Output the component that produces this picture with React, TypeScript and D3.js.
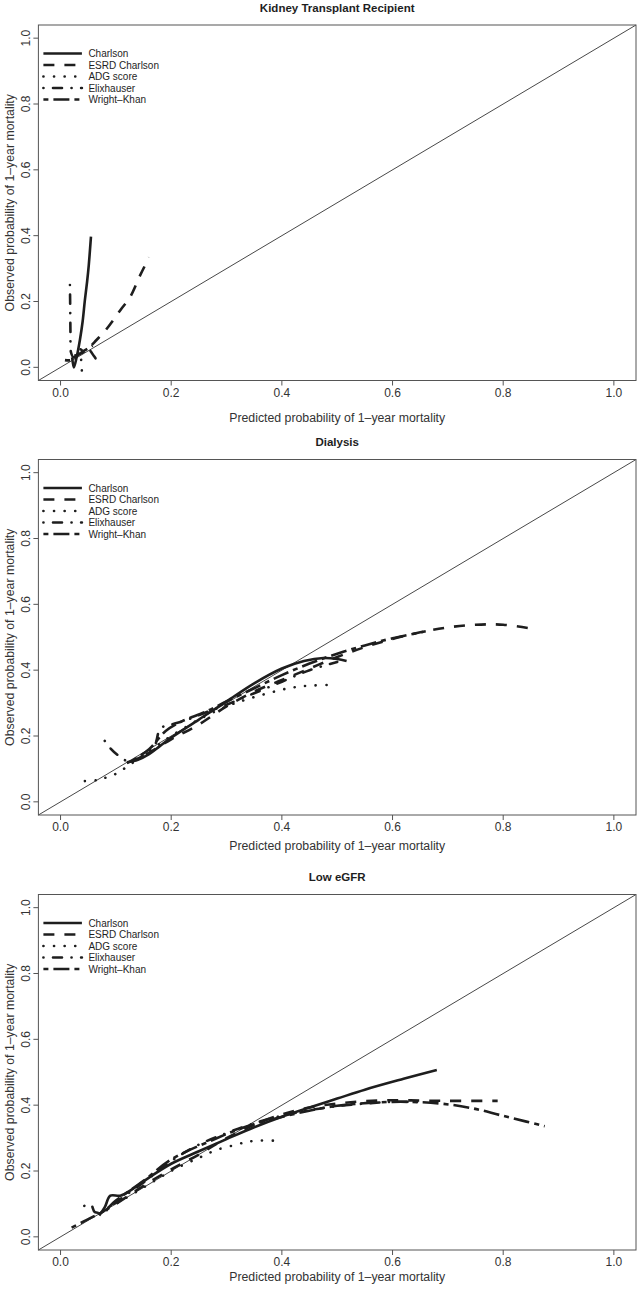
import React from 'react';
import * as d3 from 'd3';

const SERIES_NAMES = ['Charlson', 'ESRD Charlson', 'ADG score', 'Elixhauser', 'Wright–Khan'];
const PANEL_TITLES = ['Kidney Transplant Recipient', 'Dialysis', 'Low eGFR'];
const TICKS = [0, 0.2, 0.4, 0.6, 0.8, 1.0];
const TICK_LABELS = ['0.0', '0.2', '0.4', '0.6', '0.8', '1.0'];
const X_TITLE = 'Predicted probability of 1–year mortality';
const Y_TITLE = 'Observed probability of 1–year mortality';

// Kidney Transplant Recipient
const KTR_CHARLSON = [[0.021, 0.03], [0.024, 0.0], [0.029, 0.03], [0.035, 0.083], [0.04, 0.14], [0.044, 0.204], [0.048, 0.26], [0.051, 0.31], [0.055, 0.397]];
const KTR_ESRD = [[0.025, 0.035], [0.04, 0.045], [0.05, 0.057], [0.065, 0.083], [0.08, 0.11], [0.095, 0.143], [0.11, 0.178], [0.126, 0.214], [0.144, 0.28], [0.16, 0.334]];
const KTR_ADG = [[0.036, 0.055], [0.037, 0.03], [0.038, 0.005], [0.039, -0.027]];
const KTR_ELIX = [[0.017, 0.25], [0.0175, 0.18], [0.018, 0.1], [0.019, 0.045], [0.024, 0.03], [0.035, 0.05], [0.05, 0.055], [0.06, 0.035], [0.07, 0.01]];
const KTR_WK = [[0.008, 0.022], [0.02, 0.022], [0.03, 0.035], [0.04, 0.048], [0.05, 0.058], [0.058, 0.066]];

// Dialysis
const DIA_CHARLSON = [[0.12, 0.12], [0.14, 0.128], [0.16, 0.145], [0.18, 0.17], [0.2, 0.195], [0.25, 0.25], [0.3, 0.305], [0.35, 0.36], [0.4, 0.405], [0.44, 0.428], [0.475, 0.437], [0.5, 0.434], [0.517, 0.428]];
const DIA_ESRD = [[0.12, 0.118], [0.15, 0.14], [0.2, 0.19], [0.25, 0.235], [0.3, 0.29], [0.35, 0.335], [0.4, 0.37], [0.45, 0.405], [0.5, 0.44], [0.55, 0.47], [0.6, 0.495], [0.65, 0.515], [0.7, 0.53], [0.75, 0.538], [0.8, 0.538], [0.86, 0.524]];
const DIA_ADG = [[0.044, 0.063], [0.065, 0.066], [0.075, 0.074], [0.085, 0.073], [0.1, 0.085], [0.117, 0.103], [0.14, 0.13], [0.17, 0.165], [0.2, 0.2], [0.25, 0.25], [0.3, 0.29], [0.336, 0.311], [0.375, 0.33], [0.415, 0.346], [0.45, 0.353], [0.493, 0.355]];
const DIA_ELIX = [[0.08, 0.185], [0.09, 0.163], [0.105, 0.14], [0.12, 0.125], [0.15, 0.14], [0.17, 0.17], [0.178, 0.215], [0.185, 0.228], [0.2, 0.235], [0.23, 0.25], [0.26, 0.27], [0.3, 0.295], [0.35, 0.33], [0.4, 0.365], [0.45, 0.4], [0.5, 0.425]];
const DIA_WK = [[0.13, 0.125], [0.16, 0.16], [0.19, 0.215], [0.22, 0.245], [0.26, 0.272], [0.3, 0.305], [0.35, 0.345], [0.4, 0.385], [0.45, 0.42], [0.5, 0.45], [0.55, 0.475], [0.6, 0.497], [0.66, 0.518]];

// Low eGFR
const LOW_CHARLSON = [[0.07, 0.065], [0.08, 0.09], [0.09, 0.125], [0.108, 0.125], [0.13, 0.145], [0.16, 0.18], [0.2, 0.222], [0.25, 0.26], [0.3, 0.297], [0.35, 0.333], [0.4, 0.365], [0.45, 0.393], [0.5, 0.42], [0.55, 0.447], [0.62, 0.48], [0.68, 0.507]];
const LOW_ESRD = [[0.07, 0.07], [0.1, 0.1], [0.15, 0.155], [0.2, 0.205], [0.25, 0.25], [0.3, 0.3], [0.35, 0.34], [0.4, 0.372], [0.45, 0.393], [0.5, 0.405], [0.55, 0.412], [0.6, 0.415], [0.65, 0.414], [0.7, 0.413], [0.79, 0.413]];
const LOW_ADG = [[0.07, 0.07], [0.1, 0.1], [0.15, 0.15], [0.2, 0.2], [0.25, 0.24], [0.282, 0.264], [0.315, 0.279], [0.336, 0.288], [0.354, 0.292], [0.394, 0.292]];
const LOW_ELIX = [[0.043, 0.094], [0.055, 0.098], [0.062, 0.075], [0.08, 0.078], [0.1, 0.105], [0.15, 0.165], [0.2, 0.23], [0.25, 0.28], [0.3, 0.315], [0.35, 0.345], [0.4, 0.368], [0.45, 0.385], [0.5, 0.397], [0.55, 0.405], [0.6, 0.41], [0.65, 0.41]];
const LOW_WK = [[0.02, 0.028], [0.04, 0.045], [0.06, 0.062], [0.08, 0.08], [0.1, 0.11], [0.15, 0.17], [0.2, 0.235], [0.276, 0.295], [0.336, 0.335], [0.427, 0.375], [0.5, 0.398], [0.6, 0.41], [0.686, 0.405], [0.746, 0.39], [0.794, 0.37], [0.842, 0.35], [0.875, 0.336]];

const PANEL_SERIES = [
  [KTR_CHARLSON, KTR_ESRD, KTR_ADG, KTR_ELIX, KTR_WK],
  [DIA_CHARLSON, DIA_ESRD, DIA_ADG, DIA_ELIX, DIA_WK],
  [LOW_CHARLSON, LOW_ESRD, LOW_ADG, LOW_ELIX, LOW_WK],
];

const W = 642;
const H = 1289;
const LEFT = 38.4;
const RIGHT = 636;
const PANEL_TOPS = [25, 459.5, 894.5];
const X_TITLE_OFFSETS = [41, 35, 31];
const PANEL_H = 355.5;
const LWD = 2.6;
const INK = '#1e1e1e';
const FONT = '"Liberation Sans", Arial, Helvetica, sans-serif';

const LINE_STYLES = [
  { dash: undefined, cap: 'butt' },
  { dash: '11,10', cap: 'butt' },
  { dash: '0.1,10.5', cap: 'round' },
  { dash: '0.1,9.5,9,9.5', cap: 'round' },
  { dash: '5,5,16,5', cap: 'butt' },
];

function Panel({ idx }: { idx: number }) {
  const top = PANEL_TOPS[idx];
  const bottom = top + PANEL_H;
  const x = d3.scaleLinear().domain([-0.04, 1.04]).range([LEFT, RIGHT]);
  const y = d3.scaleLinear().domain([-0.04, 1.04]).range([bottom, top]);
  const line = d3
    .line<number[]>()
    .x((d) => x(d[0]))
    .y((d) => y(d[1]))
    .curve(d3.curveCatmullRom.alpha(0.5));
  const diag = d3.line<number>().x((d) => x(d)).y((d) => y(d));
  const series = PANEL_SERIES[idx];
  const cx = (LEFT + RIGHT) / 2;
  const cy = (top + bottom) / 2;
  return (
    <g>
      <text x={cx} y={top - 13.5} textAnchor="middle" fontWeight="bold" fontSize={11.5} fill={INK} fontFamily={FONT}>
        {PANEL_TITLES[idx]}
      </text>
      <path d={diag([-0.04, 1.04]) || ''} stroke="#333" strokeWidth={0.9} fill="none" />
      {series.map((s, i) => (
        <path
          key={i}
          d={line(s) || ''}
          fill="none"
          stroke={INK}
          strokeWidth={LWD}
          strokeDasharray={LINE_STYLES[i].dash}
          strokeLinecap={LINE_STYLES[i].cap as any}
          strokeLinejoin="round"
        />
      ))}
      <rect x={LEFT} y={top} width={RIGHT - LEFT} height={PANEL_H} fill="none" stroke="#555" strokeWidth={1} />
      {TICKS.map((t, i) => (
        <g key={'x' + i}>
          <line x1={x(t)} x2={x(t)} y1={bottom} y2={bottom + 5} stroke="#555" strokeWidth={1} />
          <text x={x(t)} y={bottom + 16} textAnchor="middle" fontSize={12} fill="#333" fontFamily={FONT}>
            {TICK_LABELS[i]}
          </text>
        </g>
      ))}
      {TICKS.map((t, i) => (
        <g key={'y' + i}>
          <line x1={LEFT - 5} x2={LEFT} y1={y(t)} y2={y(t)} stroke="#555" strokeWidth={1} />
          <text
            transform={`translate(${29.5},${y(t)}) rotate(-90)`}
            textAnchor="middle"
            fontSize={12}
            fill="#333"
            fontFamily={FONT}
          >
            {TICK_LABELS[i]}
          </text>
        </g>
      ))}
      <text x={cx} y={bottom + X_TITLE_OFFSETS[idx]} textAnchor="middle" fontSize={12.3} fill="#333" fontFamily={FONT}>
        {X_TITLE}
      </text>
      <text transform={`translate(${13.5},${cy}) rotate(-90)`} textAnchor="middle" fontSize={12.3} fill="#333" fontFamily={FONT}>
        {Y_TITLE}
      </text>
      {SERIES_NAMES.map((name, i) => {
        const ly = top + 28.5 + i * 11.5;
        return (
          <g key={'l' + i}>
            <line
              x1={LEFT + 5}
              x2={LEFT + 43.5}
              y1={ly}
              y2={ly}
              stroke={INK}
              strokeWidth={LWD}
              strokeDasharray={LINE_STYLES[i].dash}
              strokeLinecap={LINE_STYLES[i].cap as any}
            />
            <text x={LEFT + 50} y={ly + 3.6} fontSize={10} fill={INK} fontFamily={FONT}>
              {name}
            </text>
          </g>
        );
      })}
    </g>
  );
}

export default function App() {
  return (
    <svg
      width={W}
      height={H}
      viewBox={`0 0 ${W} ${H}`}
      style={{ position: 'absolute', left: 0, top: 0, background: '#fff' }}
    >
      <rect x={0} y={0} width={W} height={H} fill="#fff" />
      {PANEL_TITLES.map((_, i) => (
        <Panel key={i} idx={i} />
      ))}
    </svg>
  );
}
